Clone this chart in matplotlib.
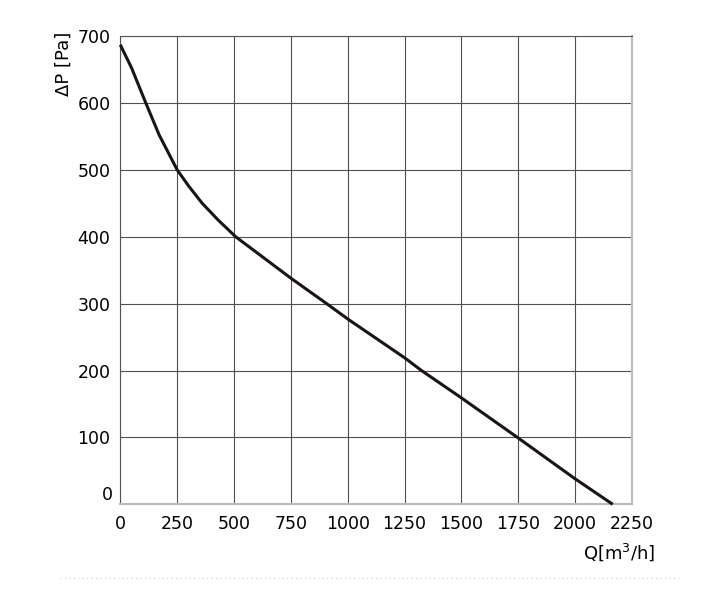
"""
Fan curve: pressure drop against air flow.
"""

import matplotlib
matplotlib.use("Agg")
import matplotlib.pyplot as plt
from matplotlib.lines import Line2D

# values
flow = [0, 50, 112, 171, 250, 300, 360, 430, 507, 750, 907, 1000, 1250,
        1324, 1500, 1750, 2000, 2165]
pressure = [687, 652, 600, 552, 500, 476, 450, 425, 400, 338, 300, 277, 219,
            200, 159, 99, 38, 0]

x_ticks = list(range(0, 2251, 250))
y_ticks = list(range(0, 701, 100))

fig = plt.figure(figsize=(7.03, 5.94), dpi=100)
ax = fig.add_axes([0.1711, 0.151, 0.728, 0.7884])

ax.plot(flow, pressure, color="#1a1414", lw=2.2, solid_capstyle="butt",
        solid_joinstyle="round", zorder=3, clip_on=False)

ax.set_xlim(0, 2250)
ax.set_ylim(0, 700)
ax.set_xticks(x_ticks)
ax.set_yticks(y_ticks)
ax.set_xticklabels([str(v) for v in x_ticks])
# the zero label sits a bit higher than its grid line, drawn by hand below
ax.set_yticklabels([""] + [str(v) for v in y_ticks[1:]])
ax.tick_params(length=0, labelsize=12.5, colors="black")
ax.tick_params(axis="x", pad=8)
ax.tick_params(axis="y", pad=7)
ax.annotate("0", xy=(0, 0), xycoords=ax.get_yaxis_transform(),
            xytext=(-5, 6.5), textcoords="offset points",
            ha="right", va="center", fontsize=12.5)

ax.grid(True, color="#505050", lw=0.8)
ax.set_axisbelow(True)
for side in ["left", "top"]:
    ax.spines[side].set_color("#555555")
for side in ["bottom", "right"]:
    ax.spines[side].set_color("#bbbbbb")
    ax.spines[side].set_linewidth(1.5)

fig.text(0.0905, 0.947, "\u0394P [Pa]", rotation=90, ha="center", va="top",
         fontsize=13)
fig.text(0.932, 0.053, "Q[m$^3$/h]", ha="right", va="bottom",
         fontsize=13)

# faint dotted rule under the chart
fig.add_artist(Line2D([0.085, 0.97], [0.027, 0.027], transform=fig.transFigure,
                      color="#cccccc", lw=0.8, ls=(0, (1, 3))))

fig.savefig("out.png", dpi=100)
